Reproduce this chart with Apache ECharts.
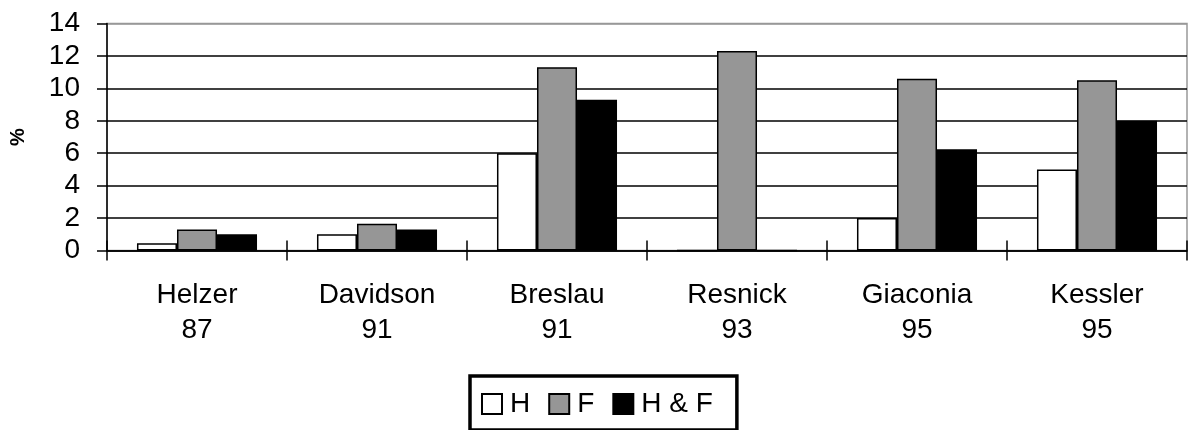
<!DOCTYPE html>
<html>
<head>
<meta charset="utf-8">
<script src="https://cdn.jsdelivr.net/npm/echarts@6/dist/echarts.min.js"></script>
<style>
  html, body { margin: 0; padding: 0; background: #fff; }
  #chart { width: 1188px; height: 430px; }
</style>
</head>
<body>
<div id="chart"></div>
<script>
const categories = ['Helzer\n87', 'Davidson\n91', 'Breslau\n91', 'Resnick\n93', 'Giaconia\n95', 'Kessler\n95'];
const valuesH = [0.45, 1.0, 6.0, 0, 2.0, 5.0];
const valuesF = [1.3, 1.65, 11.3, 12.3, 10.6, 10.5];
const valuesHF = [1.0, 1.3, 9.3, 0, 6.25, 8.0];
const yTicks = [0, 2, 4, 6, 8, 10, 12, 14];

const font = 'Liberation Sans, Arial, sans-serif';
const chart = echarts.init(document.getElementById('chart'));

const barStyle = (color) => ({
  color: color,
  borderColor: '#000',
  borderWidth: 1.5,
});

const option = {
  animation: false,
  grid: {
    left: 107,
    right: 1,
    top: 23.5,
    bottom: 179.5,
    outerBoundsMode: 'none',
    containLabel: false,
    show: true,
    borderColor: '#999',
    borderWidth: 1.5,
  },
  legend: {
    left: 470,
    top: 376,
    padding: [14, 24, 12, 11],
    itemGap: 18,
    itemWidth: 20,
    itemHeight: 20,
    icon: 'rect',
    borderColor: '#000',
    borderWidth: 3.5,
    textStyle: { fontFamily: font, fontSize: 28, color: '#000', padding: [0, 0, 0, 3] },
    data: ['H', 'F', 'H & F'],
  },
  xAxis: [
    {
      type: 'category',
      data: categories,
      axisLine: { lineStyle: { color: '#000', width: 1.5 } },
      axisTick: { show: true, length: 10, lineStyle: { color: '#000', width: 1.5 } },
      axisLabel: {
        fontFamily: font,
        fontSize: 28,
        lineHeight: 35,
        color: '#000',
        margin: 27,
      },
    },
    {
      // inner half of the category ticks, so they cross the axis line
      type: 'category',
      data: categories,
      position: 'bottom',
      axisLine: { show: false },
      axisTick: { show: true, inside: true, length: 10, lineStyle: { color: '#000', width: 1.5 } },
      axisLabel: { show: false },
    },
  ],
  yAxis: {
    type: 'value',
    min: yTicks[0],
    max: yTicks[yTicks.length - 1],
    interval: 2,
    name: '%',
    nameLocation: 'middle',
    nameGap: 79,
    nameRotate: 90,
    nameTextStyle: { fontFamily: font, fontSize: 20, fontWeight: 'bold', color: '#000' },
    axisLine: { show: true, lineStyle: { color: '#000', width: 1.5 } },
    axisTick: { show: true, length: 10, lineStyle: { color: '#000', width: 1.5 } },
    axisLabel: { fontFamily: font, fontSize: 28, color: '#000', margin: 27 },
    splitLine: {
      show: true,
      lineStyle: { color: ['#000', '#000', '#000', '#000', '#000', '#000', '#000', '#999'], width: 1.5 },
    },
  },
  series: [
    { name: 'H', type: 'bar', data: valuesH, barGap: '0%', barCategoryGap: '33.3%', itemStyle: barStyle('#fff') },
    { name: 'F', type: 'bar', data: valuesF, barGap: '0%', barCategoryGap: '33.3%', itemStyle: barStyle('#969696') },
    { name: 'H & F', type: 'bar', data: valuesHF, barGap: '0%', barCategoryGap: '33.3%', itemStyle: barStyle('#000') },
  ],
};

chart.setOption(option);
</script>
</body>
</html>
